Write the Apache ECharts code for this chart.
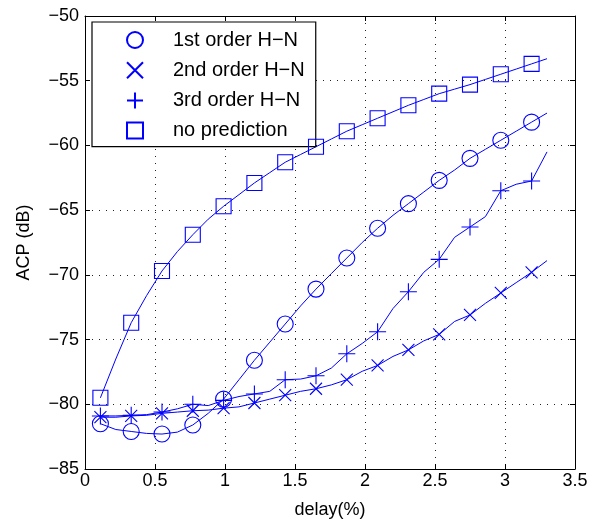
<!DOCTYPE html>
<html>
<head>
<meta charset="utf-8">
<script src="https://cdn.jsdelivr.net/npm/echarts@6/dist/echarts.min.js"></script>
<style>
  html, body { margin: 0; padding: 0; background: #fff; }
  #chart { width: 600px; height: 524px; }
</style>
</head>
<body>
<div id="chart"></div>
<script>
// Delay values (%) where ACP was evaluated
const delay = [0.11, 0.22, 0.33, 0.44, 0.55, 0.66, 0.77, 0.88, 0.99, 1.10,
               1.21, 1.32, 1.43, 1.54, 1.65, 1.76, 1.87, 1.98, 2.09, 2.20,
               2.31, 2.42, 2.53, 2.64, 2.75, 2.86, 2.97, 3.08, 3.19, 3.30];

// ACP (dB) for each predictor
const firstOrder = [-81.5, -81.95, -82.1, -82.25, -82.3, -82.15, -81.6, -80.7, -79.6, -78.1,
                    -76.6, -75.2, -73.8, -72.4, -71.1, -69.9, -68.7, -67.5, -66.4, -65.4,
                    -64.5, -63.6, -62.7, -61.9, -61.0, -60.3, -59.6, -58.9, -58.2, -57.5];
const secondOrder = [-81.0, -81.0, -80.9, -80.85, -80.7, -80.6, -80.5, -80.45, -80.3, -80.2,
                     -79.9, -79.6, -79.3, -79.0, -78.8, -78.5, -78.1, -77.45, -77.0, -76.3,
                     -75.8, -75.1, -74.6, -73.6, -73.1, -72.2, -71.4, -70.6, -69.8, -68.9];
const thirdOrder = [-80.9, -80.9, -80.85, -80.8, -80.6, -80.35, -80.0, -80.1, -79.7, -79.4,
                    -79.2, -79.0, -78.1, -78.05, -77.8, -77.2, -76.1, -75.3, -74.4, -72.6,
                    -71.3, -69.8, -68.8, -67.1, -66.3, -65.5, -63.5, -63.0, -62.75, -60.5];
const noPrediction = [-79.5, -76.5, -73.7, -71.6, -69.7, -68.2, -66.9, -65.7, -64.7, -63.8,
                      -62.9, -62.1, -61.3, -60.7, -60.1, -59.5, -58.9, -58.4, -57.9, -57.4,
                      -56.9, -56.45, -56.0, -55.65, -55.3, -54.9, -54.5, -54.1, -53.7, -53.3];

const seriesNames = ['1st order H\u2212N', '2nd order H\u2212N', '3rd order H\u2212N', 'no prediction'];
const xTicks = [0, 0.5, 1, 1.5, 2, 2.5, 3, 3.5];
const yTicks = [-85, -80, -75, -70, -65, -60, -55, -50];

const BLUE = '#0000ff';
const FONT = '"Liberation Sans", Arial, Helvetica, sans-serif';

const symbols = [
  'circle',
  'path://M0,0L10,10M10,0L0,10',
  'path://M5,0L5,10M0,5L10,5',
  'path://M0,0L10,0L10,10L0,10Z'
];
const symbolSizes = [16, 12, 17, 15];
const curves = [firstOrder, secondOrder, thirdOrder, noPrediction];

const pairs = ys => delay.map((x, i) => [x, ys[i]]);
// markers sit on every other sample
const markerPairs = ys => pairs(ys).filter((_, i) => i % 2 === 0);

const series = [];
curves.forEach((ys, k) => {
  series.push({
    type: 'line',
    name: seriesNames[k] + ' curve',
    data: pairs(ys),
    showSymbol: false,
    symbol: 'none',
    lineStyle: { color: BLUE, width: 1 },
    silent: true,
    animation: false,
    z: 3
  });
});
curves.forEach((ys, k) => {
  series.push({
    type: 'scatter',
    name: seriesNames[k],
    data: markerPairs(ys),
    symbol: symbols[k],
    symbolSize: symbolSizes[k],
    symbolKeepAspect: true,
    itemStyle: { color: 'rgba(0,0,0,0)', borderColor: BLUE, borderWidth: 1.1, opacity: 1 },
    animation: false,
    z: 4
  });
});

const minusFmt = v => String(v).replace('-', '\u2212');
const dotted = { show: true, lineStyle: { color: '#222', type: [1, 6], width: 1 } };

const chart = echarts.init(document.getElementById('chart'), null, { renderer: 'canvas' });
chart.setOption({
  backgroundColor: '#fff',
  animation: false,
  textStyle: { fontFamily: FONT },
  grid: { left: 85, right: 25, top: 16, bottom: 53.5, containLabel: false },
  legend: {
    data: seriesNames,
    orient: 'vertical',
    left: 92,
    top: 22,
    padding: [8, 11, 6, 34],
    itemWidth: 66,
    itemHeight: 16,
    itemGap: 10.2,
    backgroundColor: '#fff',
    borderColor: '#000',
    borderWidth: 1.2,
    textStyle: { fontFamily: FONT, fontSize: 20, color: '#000' },
    selectedMode: false
  },
  xAxis: [{
    type: 'value',
    min: xTicks[0],
    max: xTicks[xTicks.length - 1],
    interval: 0.5,
    name: 'delay(%)',
    nameLocation: 'middle',
    nameGap: 32,
    nameTextStyle: { fontFamily: FONT, fontSize: 18, color: '#000' },
    axisLine: { show: true, lineStyle: { color: '#000', width: 1 } },
    axisTick: { show: true, inside: true, length: 5, lineStyle: { color: '#000' } },
    axisLabel: { fontFamily: FONT, fontSize: 18, color: '#000', margin: 3, formatter: v => String(v) },
    splitLine: dotted
  }, {
    type: 'value',
    position: 'top',
    min: xTicks[0],
    max: xTicks[xTicks.length - 1],
    interval: 0.5,
    axisLine: { show: true, onZero: false, lineStyle: { color: '#000', width: 1 } },
    axisTick: { show: true, inside: true, length: 5, lineStyle: { color: '#000' } },
    axisLabel: { show: false },
    splitLine: { show: false }
  }],
  yAxis: [{
    type: 'value',
    min: yTicks[0],
    max: yTicks[yTicks.length - 1],
    interval: 5,
    name: 'ACP (dB)',
    nameLocation: 'middle',
    nameGap: 52,
    nameTextStyle: { fontFamily: FONT, fontSize: 18, color: '#000' },
    axisLine: { show: true, onZero: false, lineStyle: { color: '#000', width: 1 } },
    axisTick: { show: true, inside: true, length: 5, lineStyle: { color: '#000' } },
    axisLabel: { fontFamily: FONT, fontSize: 18, color: '#000', margin: 6, formatter: minusFmt },
    splitLine: dotted
  }, {
    type: 'value',
    position: 'right',
    min: yTicks[0],
    max: yTicks[yTicks.length - 1],
    interval: 5,
    axisLine: { show: true, onZero: false, lineStyle: { color: '#000', width: 1 } },
    axisTick: { show: true, inside: true, length: 5, lineStyle: { color: '#000' } },
    axisLabel: { show: false },
    splitLine: { show: false }
  }],
  series: series
});
</script>
</body>
</html>
